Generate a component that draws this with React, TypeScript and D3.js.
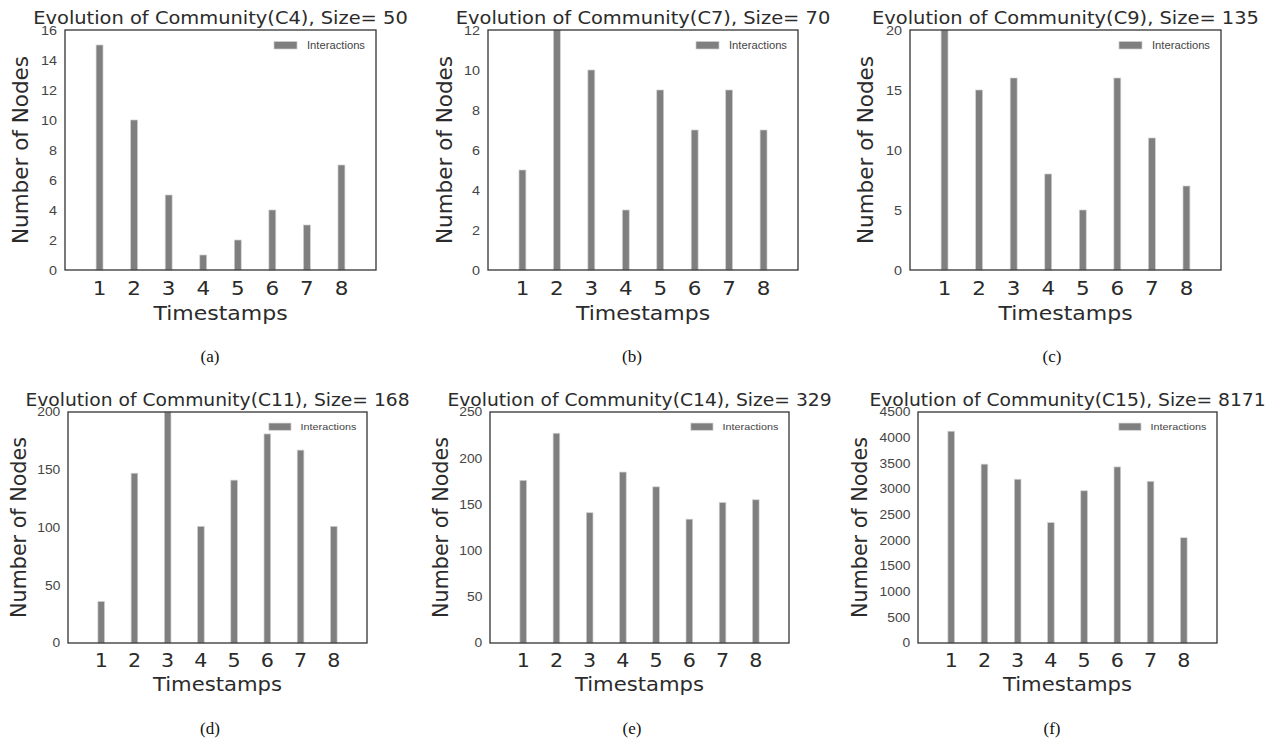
import React from "react";
import * as d3 from "d3";

const timestamps = [1, 2, 3, 4, 5, 6, 7, 8];

const titles = [
  "Evolution of Community(C4), Size= 50",
  "Evolution of Community(C7), Size= 70",
  "Evolution of Community(C9), Size= 135",
  "Evolution of Community(C11), Size= 168",
  "Evolution of Community(C14), Size= 329",
  "Evolution of Community(C15), Size= 8171",
];

const captions = ["(a)", "(b)", "(c)", "(d)", "(e)", "(f)"];

const valuesC4 = [15, 10, 5, 1, 2, 4, 3, 7];
const valuesC7 = [5, 12, 10, 3, 9, 7, 9, 7];
const valuesC9 = [20, 15, 16, 8, 5, 16, 11, 7];
const valuesC11 = [36, 147, 200, 101, 141, 181, 167, 101];
const valuesC14 = [176, 227, 141, 185, 169, 134, 152, 155];
const valuesC15 = [4125, 3484, 3190, 2345, 2965, 3430, 3150, 2050];

const yMaxes = [16, 12, 20, 200, 250, 4500];
const yTicksC4 = [0, 2, 4, 6, 8, 10, 12, 14, 16];
const yTicksC7 = [0, 2, 4, 6, 8, 10, 12];
const yTicksC9 = [0, 5, 10, 15, 20];
const yTicksC11 = [0, 50, 100, 150, 200];
const yTicksC14 = [0, 50, 100, 150, 200, 250];
const yTicksC15 = [0, 500, 1000, 1500, 2000, 2500, 3000, 3500, 4000, 4500];

const allValues = [valuesC4, valuesC7, valuesC9, valuesC11, valuesC14, valuesC15];
const allTicks = [yTicksC4, yTicksC7, yTicksC9, yTicksC11, yTicksC14, yTicksC15];

// layout of each panel's axes box (s = text scale of the row)
const layout = [
  { x0: 65, x1: 376, y0: 30, y1: 270, labelX: 28, capX: 210, capY: 362, s: 1 },
  { x0: 488, x1: 798, y0: 30, y1: 270, labelX: 452, capX: 632, capY: 362, s: 1 },
  { x0: 910, x1: 1221, y0: 30, y1: 270, labelX: 873, capX: 1052, capY: 362, s: 1 },
  { x0: 68, x1: 367, y0: 412, y1: 643, labelX: 26, capX: 210, capY: 734, s: 0.962 },
  { x0: 490, x1: 789, y0: 412, y1: 643, labelX: 448, capX: 632, capY: 734, s: 0.962 },
  { x0: 918, x1: 1217, y0: 412, y1: 643, labelX: 867, capX: 1052, capY: 734, s: 0.962 },
];

const SX = 1.1;
const sans = "'DejaVu Sans', sans-serif";
const arial = "'Liberation Sans', Arial, sans-serif";

function Panel({ i }: { i: number }) {
  const L = layout[i];
  const s = L.s;
  const vals = allValues[i];
  const ticks = allTicks[i];
  const x = d3.scaleLinear().domain([0, 9]).range([L.x0, L.x1]);
  const y = d3.scaleLinear().domain([0, yMaxes[i]]).range([L.y1, L.y0]);
  const bw = x(0.2) - x(0);
  const cx = (L.x0 + L.x1) / 2;
  const cy = (L.y0 + L.y1) / 2;
  const legTextX = L.x1 - 69 * s;
  return (
    <g>
      <text
        transform={`translate(${cx},${L.y0 - 6 * s}) scale(1.08,1)`}
        textAnchor="middle"
        fontFamily={sans}
        fontSize={18 * s}
        fill="#2b2b2b"
      >
        {titles[i]}
      </text>
      {vals.map((v, k) => (
        <rect
          key={k}
          x={x(timestamps[k]) - bw / 2}
          y={y(v)}
          width={bw}
          height={y(0) - y(v)}
          fill="#7f7f7f"
          stroke="#cfcfcf"
          strokeWidth={0.7}
        />
      ))}
      <rect
        x={L.x0}
        y={L.y0}
        width={L.x1 - L.x0}
        height={L.y1 - L.y0}
        fill="none"
        stroke="#333"
        strokeWidth={1.3}
      />
      {ticks.map((t) => (
        <text
          key={t}
          transform={`translate(${L.x0 - 8 * s},${y(t) + 4.5 * s}) scale(1.15,1)`}
          textAnchor="end"
          fontFamily={arial}
          fontSize={12.5 * s}
          fill="#444"
        >
          {t}
        </text>
      ))}
      {timestamps.map((t) => (
        <text
          key={t}
          transform={`translate(${x(t)},${L.y1 + 25 * s}) scale(${SX},1)`}
          textAnchor="middle"
          fontFamily={sans}
          fontSize={19.5 * s}
          fill="#2b2b2b"
        >
          {t}
        </text>
      ))}
      <text
        transform={`translate(${cx},${L.y1 + 50 * s}) scale(${SX},1)`}
        textAnchor="middle"
        fontFamily={sans}
        fontSize={20 * s}
        fill="#2b2b2b"
      >
        Timestamps
      </text>
      <text
        transform={`translate(${L.labelX},${cy}) rotate(-90)`}
        textAnchor="middle"
        fontFamily={sans}
        fontSize={21.5 * s}
        fill="#2b2b2b"
      >
        Number of Nodes
      </text>
      <rect
        x={legTextX - 33 * s}
        y={L.y0 + 11.5 * s}
        width={23 * s}
        height={7.5 * s}
        fill="#7f7f7f"
        stroke="#cfcfcf"
        strokeWidth={0.7}
      />
      <text
        transform={`translate(${legTextX},${L.y0 + 19 * s}) scale(1.1,1)`}
        fontFamily={arial}
        fontSize={10.2 * s}
        fill="#444"
      >
        Interactions
      </text>
      <text
        x={L.capX}
        y={L.capY}
        textAnchor="middle"
        fontFamily="'Liberation Serif', 'Times New Roman', serif"
        fontSize={17}
        fill="#111"
      >
        {captions[i]}
      </text>
    </g>
  );
}

export default function App() {
  return (
    <svg
      width={1274}
      height={741}
      style={{ position: "absolute", left: 0, top: 0, background: "#fff" }}
    >
      <rect x={0} y={0} width={1274} height={741} fill="#fff" />
      {layout.map((_, i) => (
        <Panel key={i} i={i} />
      ))}
    </svg>
  );
}
